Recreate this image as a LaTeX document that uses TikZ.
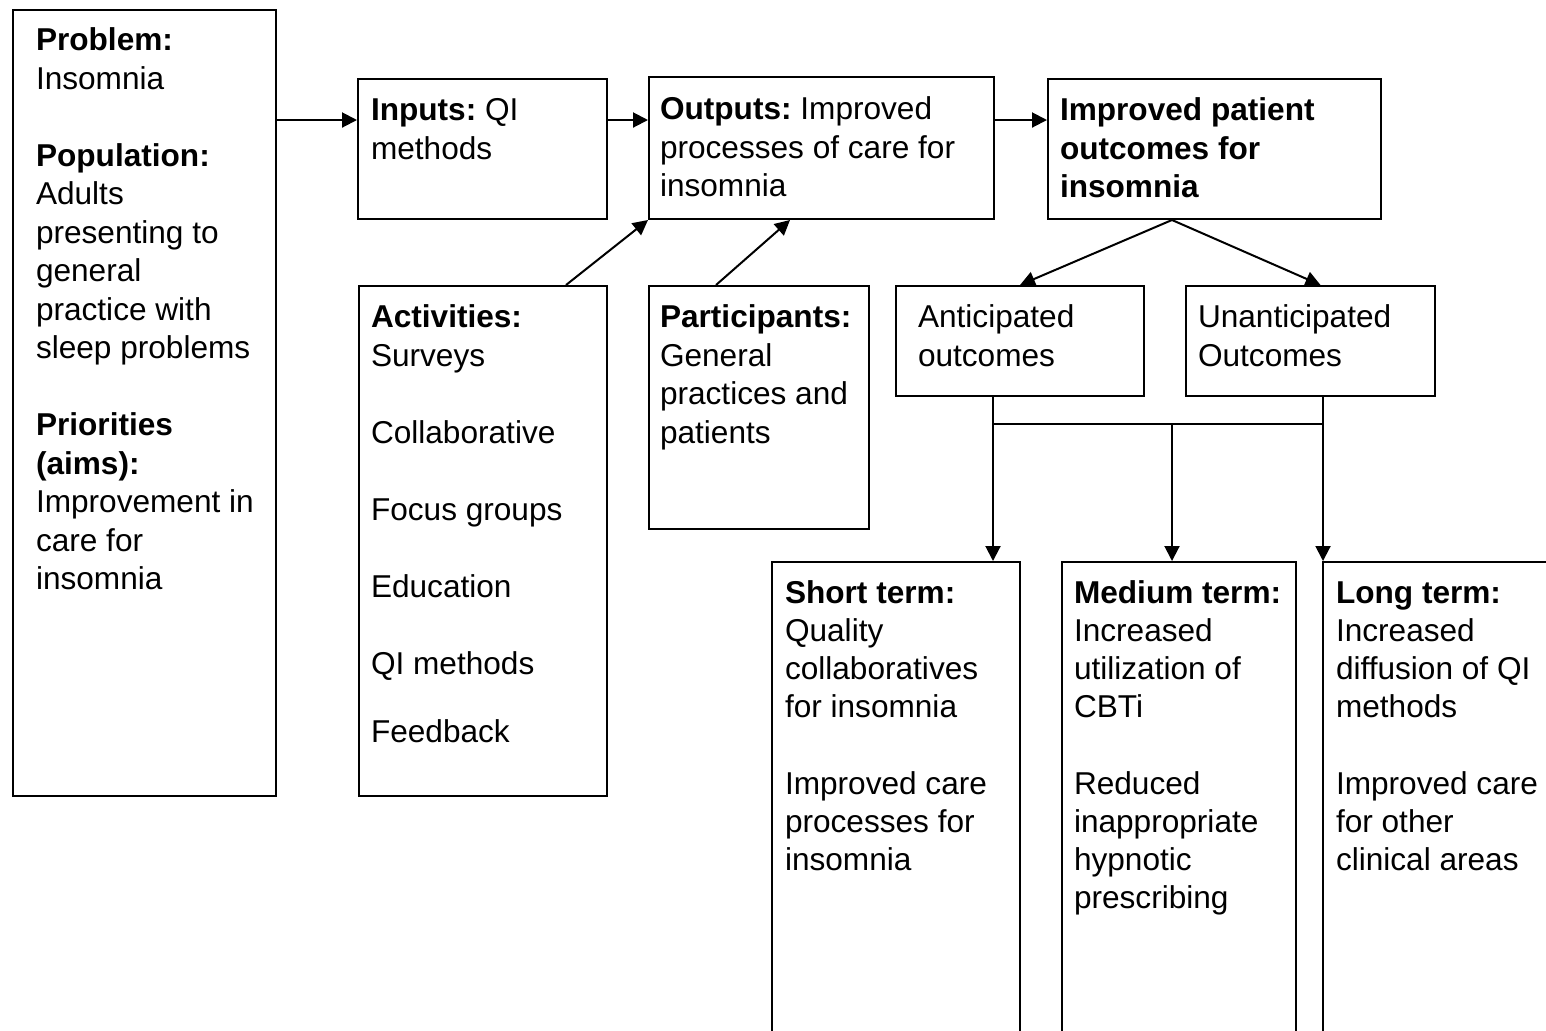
\documentclass[tikz,border=0pt]{standalone}
\usepackage{fontspec}
\setmainfont{Liberation Sans}
\usetikzlibrary{arrows.meta}

\def\px{0.5pt}
\newcommand{\skipln}{\\[19.25pt]}
\frenchspacing

\begin{document}
\begin{tikzpicture}[x=\px, y=-\px, >={Triangle[length=7.5pt, width=7.5pt]}, line width=1pt,
    box/.style={draw, anchor=north west, inner sep=0pt},
    txt/.style={anchor=north west, inner sep=0pt, align=left, font=\fontsize{15.8}{19.25}\selectfont}]
    \useasboundingbox (0,0) rectangle (1546,1030);
    \clip (0,0) rectangle (1546,1030);

    % boxes
    \node[box, minimum width=263*\px, minimum height=786*\px] (prob) at (12,9) {};
    \node[box, minimum width=249*\px, minimum height=140*\px] (inputs) at (357,78) {};
    \node[box, minimum width=345*\px, minimum height=142*\px] (outputs) at (648,76) {};
    \node[box, minimum width=333*\px, minimum height=140*\px] (improved) at (1047,78) {};
    \node[box, minimum width=248*\px, minimum height=510*\px] (activities) at (358,285) {};
    \node[box, minimum width=220*\px, minimum height=243*\px] (participants) at (648,285) {};
    \node[box, minimum width=248*\px, minimum height=110*\px] (anticip) at (895,285) {};
    \node[box, minimum width=249*\px, minimum height=110*\px] (unanticip) at (1185,285) {};
    \node[box, minimum width=248*\px, minimum height=500*\px] (shortterm) at (771,561) {};
    \node[box, minimum width=234*\px, minimum height=500*\px] (mediumterm) at (1061,561) {};
    \node[box, minimum width=260*\px, minimum height=500*\px] (longterm) at (1322,561) {};

    % texts
    \node[txt] (probtxt) at ([xshift=23*\px, yshift=-14*\px]prob.north west) {\strut\textbf{Problem:}\\Insomnia\skipln
        \textbf{Population:}\\Adults\\presenting to\\general\\practice with\\sleep problems\skipln
        \textbf{Priorities}\\\textbf{(aims):}\\Improvement in\\care for\\insomnia};
    \node[txt] (inputstxt) at ([xshift=13*\px, yshift=-15*\px]inputs.north west) {\strut\textbf{Inputs:} QI\\methods};
    \node[txt] (outputstxt) at ([xshift=11*\px, yshift=-16*\px]outputs.north west) {\strut\textbf{Outputs:} Improved\\processes of care for\\insomnia};
    \node[txt] (improvedtxt) at ([xshift=12*\px, yshift=-15*\px]improved.north west) {\strut\textbf{Improved patient}\\\textbf{outcomes for}\\\textbf{insomnia}};
    \node[txt] (activitiestxt) at ([xshift=12*\px, yshift=-15*\px]activities.north west) {\strut\textbf{Activities:}\\Surveys\skipln
        Collaborative\skipln Focus groups\skipln Education\skipln QI methods\\[15pt] Feedback};
    \node[txt] (participantstxt) at ([xshift=11*\px, yshift=-15*\px]participants.north west) {\strut\textbf{Participants:}\\General\\practices and\\patients};
    \node[txt] (anticiptxt) at ([xshift=22*\px, yshift=-15*\px]anticip.north west) {\strut Anticipated\\outcomes};
    \node[txt] (unanticiptxt) at ([xshift=12*\px, yshift=-15*\px]unanticip.north west) {\strut Unanticipated\\Outcomes};
    \node[txt, font=\fontsize{15.8}{19.05}\selectfont] (shorttxt) at ([xshift=13*\px, yshift=-15*\px]shortterm.north west) {\strut\textbf{Short term:}\\Quality\\collaboratives\\for insomnia\\[19.05pt]
        Improved care\\processes for\\insomnia};
    \node[txt, font=\fontsize{15.8}{19.05}\selectfont] (mediumtxt) at ([xshift=12*\px, yshift=-15*\px]mediumterm.north west) {\strut\textbf{Medium term:}\\Increased\\utilization of\\CBTi\\[19.05pt]
        Reduced\\inappropriate\\hypnotic\\prescribing};
    \node[txt, font=\fontsize{15.8}{19.05}\selectfont] (longtxt) at ([xshift=13*\px, yshift=-15*\px]longterm.north west) {\strut\textbf{Long term:}\\Increased\\diffusion of QI\\methods\\[19.05pt]
        Improved care\\for other\\clinical areas};

    % arrows
    \coordinate (row) at (0,120);
    \draw[->] (prob.east |- row) -- (inputs.west |- row);
    \draw[->] (inputs.east |- row) -- (outputs.west |- row);
    \draw[->] (outputs.east |- row) -- (improved.west |- row);
    \draw[->] ([xshift=208*\px]activities.north west) -- (outputs.south west);
    \draw[->] ([xshift=68*\px]participants.north west) -- ([xshift=142*\px]outputs.south west);
    \draw[->] ([xshift=125*\px]improved.south west) -- (anticip.north);
    \draw[->] ([xshift=125*\px]improved.south west) -- ([xshift=10*\px]unanticip.north);

    \coordinate (antout) at ([xshift=98*\px]anticip.south west);
    \coordinate (unout) at ([xshift=138*\px]unanticip.south west);
    \coordinate (busl) at ([yshift=-27*\px]antout);
    \draw[->] (antout) -- (antout |- shortterm.north);
    \draw[->] (unout) -- (unout |- longterm.north);
    \draw (busl) -- (busl -| unout);
    \draw[->] ([xshift=-7*\px]mediumterm.north |- busl) -- ([xshift=-7*\px]mediumterm.north);
\end{tikzpicture}
\end{document}
